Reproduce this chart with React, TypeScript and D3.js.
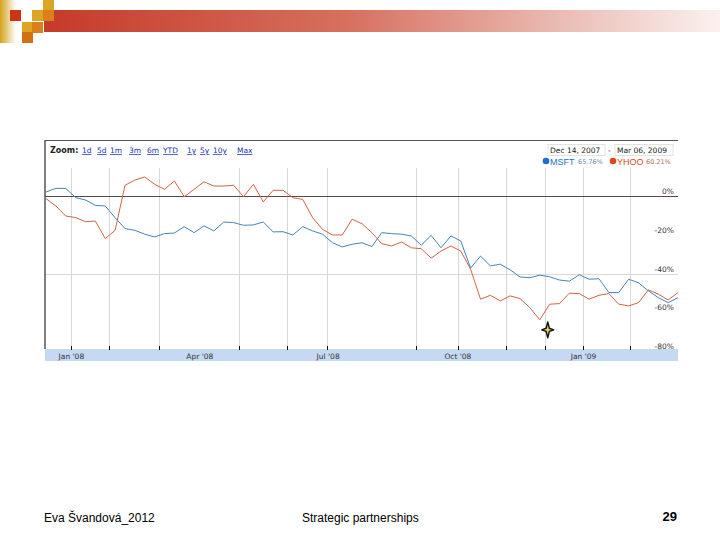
import React, { useEffect, useRef } from "react";
import * as d3 from "d3";

// weekly % change since Dec 14, 2007
const msftValues = [
  2.2, 4.1, 4.1, -0.7, -1.9, -4.7, -5.0, -11.1, -16.7, -17.6,
  -19.6, -21, -19.3, -19, -15.7, -18.8, -15.3, -17.9, -13.3, -13.6,
  -15, -14.8, -13.3, -18.4, -18.3, -20, -15.7, -17.9, -19.6, -24,
  -26.2, -24.8, -24, -26, -18.8, -19.3, -19.6, -20.5, -25.3, -20.2,
  -26.6, -20.5, -23.1, -37.1, -30.9, -36, -35.1, -38, -41.7, -42.1,
  -40.8, -41.6, -43.3, -43.9, -40.6, -42.9, -42.6, -49.8, -49.8, -42.9,
  -44.7, -48.9, -52.4, -55, -52.4,
];
const yhooValues = [
  -1.2, -5, -10.2, -11, -13.1, -12.8, -21.9, -17.6, 5.7, 8.4,
  10, 6.2, 3.6, 7.9, -0.2, 3.6, 7.5, 5.3, 5.3, 5.7,
  -0.2, 6.2, -2.9, 3.1, 3.1, -0.7, -1.6, -11.1, -17.1, -20,
  -20, -11.9, -14.2, -18.8, -24.5, -25.7, -23.6, -26.6, -27.1, -32,
  -28.3, -25.7, -28.3, -37.7, -53.2, -51.2, -54.1, -51.5, -52.9, -57.6,
  -63.9, -55.8, -55.5, -50.1, -50.3, -53.2, -51.2, -50.3, -55.8, -56.7,
  -55, -48.4, -50.6, -53.6, -49.8,
];

const startDate = "2007-12-14";
const endDate = "2009-03-06";
const gridDates = [
  "2008-01-01", "2008-01-28", "2008-03-03", "2008-04-29", "2008-06-02", "2008-06-30",
  "2008-09-01", "2008-10-01", "2008-11-04", "2008-12-02", "2008-12-29", "2009-01-31",
];
const axisLabels = ["Jan '08", "Apr '08", "Jul '08", "Oct '08", "Jan '09"];
const axisLabelDates = ["2008-01-01", "2008-04-01", "2008-07-01", "2008-10-01", "2008-12-29"];
const yTicks = [0, -20, -40, -60, -80];
const zoomLinks = ["1d", "5d", "1m", "3m", "6m", "YTD", "1y", "5y", "10y", "Max"];
const zoomLinkX = [82, 97, 110, 129, 147, 163, 187, 200, 213, 237];

const BLUE = "#4682b8";
const RED = "#cf6446";
const chartFont = "'DejaVu Sans', Verdana, sans-serif";

const Chart: React.FC = () => {
  const svgRef = useRef<SVGSVGElement>(null);

  useEffect(() => {
    if (!svgRef.current) return;
    const svg = d3.select(svgRef.current);
    svg.selectAll("*").remove();

    const parse = d3.timeParse("%Y-%m-%d");
    const weeks = d3.timeFriday.range(parse(startDate)!, d3.timeDay.offset(parse(endDate)!, 1));

    const left = 46;
    const right = 678;
    const x = d3.scaleTime().domain([parse(startDate)!, parse(endDate)!]).range([left, right]);
    const y = d3.scaleLinear().domain([-80, 0]).range([351, 196.3]);

    svg.append("rect").attr("width", 720).attr("height", 540).attr("fill", "#fff");

    // slide decoration
    const defs = svg.append("defs");
    const barGrad = defs.append("linearGradient").attr("id", "barGrad");
    barGrad.append("stop").attr("offset", "0%").attr("stop-color", "#c63a28");
    barGrad.append("stop").attr("offset", "45%").attr("stop-color", "#d6705f");
    barGrad.append("stop").attr("offset", "80%").attr("stop-color", "#ecc4bd");
    barGrad.append("stop").attr("offset", "100%").attr("stop-color", "#fbf1ef");
    const goldGrad = defs.append("linearGradient").attr("id", "goldGrad");
    goldGrad.append("stop").attr("offset", "0%").attr("stop-color", "#d4a21c");
    goldGrad.append("stop").attr("offset", "100%").attr("stop-color", "#ffffff");

    svg.append("rect").attr("x", 0).attr("y", 0).attr("width", 16).attr("height", 43).attr("fill", "url(#goldGrad)");
    svg.append("rect").attr("x", 44).attr("y", 10).attr("width", 676).attr("height", 22).attr("fill", "url(#barGrad)");
    const squares: [number, number, string][] = [
      [10, 10, "#cc3414"],
      [43, 0, "#dba624"],
      [32, 10, "#dba624"],
      [43, 10, "#d9801a"],
      [22, 22, "#dba624"],
      [32, 22, "#d9801a"],
      [22, 32, "#d27014"],
    ];
    svg.append("g").selectAll("rect").data(squares).join("rect")
      .attr("x", (d) => d[0]).attr("y", (d) => d[1])
      .attr("width", 11).attr("height", 11).attr("fill", (d) => d[2]);

    // chart frame
    const g = svg.append("g").attr("font-family", chartFont);
    g.append("line").attr("x1", 45).attr("x2", 678).attr("y1", 140.5).attr("y2", 140.5)
      .attr("stroke", "#555").attr("stroke-width", 1);

    // header
    g.append("text").attr("x", 50).attr("y", 153).attr("font-size", 8).attr("font-weight", "bold")
      .attr("fill", "#222").text("Zoom:");
    g.append("g").selectAll("text").data(zoomLinks).join("text")
      .attr("x", (_, i) => zoomLinkX[i]).attr("y", 153).attr("font-size", 7.5)
      .attr("fill", "#2233bb").attr("text-decoration", "underline").text((d) => d);

    g.append("rect").attr("x", 548).attr("y", 144.5).attr("width", 57).attr("height", 11)
      .attr("fill", "none").attr("stroke", "#e2e2e2");
    g.append("rect").attr("x", 615).attr("y", 144.5).attr("width", 58).attr("height", 11)
      .attr("fill", "none").attr("stroke", "#e2e2e2");
    g.append("text").attr("x", 550).attr("y", 153).attr("font-size", 7.5).attr("fill", "#222").text("Dec 14, 2007");
    g.append("text").attr("x", 608).attr("y", 153).attr("font-size", 7.5).attr("fill", "#222").text("-");
    g.append("text").attr("x", 617).attr("y", 153).attr("font-size", 7.5).attr("fill", "#222").text("Mar 06, 2009");

    g.append("circle").attr("cx", 546).attr("cy", 161).attr("r", 3.3).attr("fill", "#1a6fd0");
    g.append("text").attr("x", 550).attr("y", 164.5).attr("font-size", 9).attr("font-family", "'Liberation Sans', Arial, sans-serif")
      .attr("fill", "#1a6fd0").text("MSFT");
    g.append("text").attr("x", 578).attr("y", 164).attr("font-size", 6.5).attr("fill", "#6a8ab0").text("65.76%");
    g.append("circle").attr("cx", 613).attr("cy", 161).attr("r", 3.3).attr("fill", "#dd4a1a");
    g.append("text").attr("x", 617).attr("y", 164.5).attr("font-size", 9).attr("font-family", "'Liberation Sans', Arial, sans-serif")
      .attr("fill", "#dd4a1a").text("YHOO");
    g.append("text").attr("x", 646).attr("y", 164).attr("font-size", 6.5).attr("fill", "#b07060").text("60.21%");

    // grid
    g.append("g").selectAll("line").data(gridDates).join("line")
      .attr("x1", (d) => Math.round(x(parse(d)!)) + 0.5).attr("x2", (d) => Math.round(x(parse(d)!)) + 0.5)
      .attr("y1", 168).attr("y2", 349).attr("stroke", "#d8d8d8");
    g.append("line").attr("x1", 45).attr("x2", 678).attr("y1", Math.round(y(-40)) + 0.5).attr("y2", Math.round(y(-40)) + 0.5)
      .attr("stroke", "#d8d8d8");
    g.append("line").attr("x1", 45).attr("x2", 678).attr("y1", Math.round(y(0)) + 0.5).attr("y2", Math.round(y(0)) + 0.5)
      .attr("stroke", "#5e4646");

    // bottom band
    g.append("rect").attr("x", 45).attr("y", 349).attr("width", 633).attr("height", 12).attr("fill", "#c5d9f2");
    g.append("g").selectAll("line").data(gridDates).join("line")
      .attr("x1", (d) => Math.round(x(parse(d)!)) + 0.5).attr("x2", (d) => Math.round(x(parse(d)!)) + 0.5)
      .attr("y1", 346).attr("y2", 350).attr("stroke", "#111");
    g.append("g").selectAll("text").data(axisLabels).join("text")
      .attr("x", (_, i) => x(parse(axisLabelDates[i])!)).attr("y", 358.5).attr("text-anchor", "middle")
      .attr("font-size", 7.5).attr("fill", "#333").text((d) => d);

    // y labels
    g.append("g").selectAll("text").data(yTicks).join("text")
      .attr("x", 674).attr("y", (d) => y(d) - 2).attr("text-anchor", "end")
      .attr("font-size", 7.5).attr("fill", "#333").text((d) => `${d}%`);

    // left border
    g.append("line").attr("x1", 45).attr("x2", 45).attr("y1", 140).attr("y2", 349)
      .attr("stroke", "#555").attr("stroke-width", 1.5);

    // lines
    const line = d3.line<number>().x((_, i) => x(weeks[i])).y((d) => y(d));
    g.append("path").attr("d", line(yhooValues)).attr("fill", "none").attr("stroke", RED).attr("stroke-width", 1);
    g.append("path").attr("d", line(msftValues)).attr("fill", "none").attr("stroke", BLUE).attr("stroke-width", 1);

    // hover cursor near the YHOO low
    const lowIdx = d3.minIndex(yhooValues);
    const cx = x(weeks[lowIdx]) + 8;
    const cy = y(yhooValues[lowIdx]) + 10;
    const star = `M0,-8 L1.6,-1.6 L6,0 L1.6,1.6 L0,8 L-1.6,1.6 L-6,0 L-1.6,-1.6 Z`;
    g.append("path").attr("d", star).attr("transform", `translate(${cx},${cy})`)
      .attr("fill", "#e8cf6a").attr("stroke", "#111").attr("stroke-width", 1.4).attr("stroke-linejoin", "round");

    // footer
    const foot = svg.append("g").attr("font-family", "'Liberation Sans', Arial, sans-serif").attr("fill", "#000");
    foot.append("text").attr("x", 44).attr("y", 522).attr("font-size", 12).text("Eva Švandová_2012");
    foot.append("text").attr("x", 302).attr("y", 522).attr("font-size", 12).text("Strategic partnerships");
    foot.append("text").attr("x", 677).attr("y", 521).attr("font-size", 13).attr("font-weight", "bold")
      .attr("text-anchor", "end").text("29");
  }, []);

  return (
    <svg
      ref={svgRef}
      width={720}
      height={540}
      style={{ position: "absolute", left: 0, top: 0 }}
    />
  );
};

export default function App() {
  return <Chart />;
}
